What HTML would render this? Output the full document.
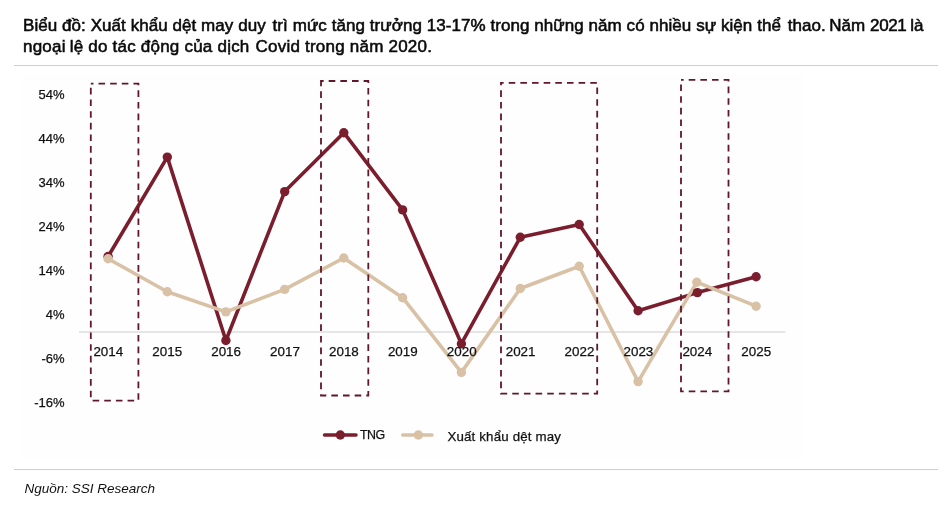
<!DOCTYPE html>
<html lang="vi">
<head>
<meta charset="utf-8">
<title>Biểu đồ</title>
<style>
html,body{margin:0;padding:0;background:#fff;}
body{width:938px;height:517px;position:relative;overflow:hidden;font-family:"Liberation Sans",sans-serif;color:#111;}
.title{position:absolute;left:23px;top:15px;margin:0;font-size:17px;line-height:21.3px;font-weight:400;color:#0a0a0a;white-space:nowrap;letter-spacing:0px;-webkit-text-stroke:0.55px #0a0a0a;}
.hr{position:absolute;left:14px;right:0;height:1px;background:#cfcfcf;}
.src{position:absolute;left:24.5px;top:481px;font-size:13.5px;font-style:italic;color:#111;white-space:nowrap;line-height:16px;}
svg{position:absolute;left:0;top:0;}
svg text{font-family:"Liberation Sans",sans-serif;fill:#111;stroke:#111;stroke-width:0.25px;}
</style>
</head>
<body>
<div class="title"><span id="t1" style="letter-spacing:0.06px">Biểu đồ: Xuất khẩu dệt may duy <span style="margin-left:2px">trì</span> mức tăng trưởng 13-17% trong những năm có nhiều sự kiện thể <span style="margin-left:2px">thao.</span> <span style="margin-left:-1.5px">Năm</span> <span style="letter-spacing:-0.35px">2021</span> <span style="margin-left:-1px">là</span></span><br><span id="t2" style="letter-spacing:0.22px">ngoại <span style="margin-left:-1px">lệ</span> do tác động của dịch <span style="margin-left:1px">Covid</span> trong năm 2020.</span></div>
<div class="hr" style="top:65px"></div>
<div class="hr" style="top:469px"></div>
<div class="src" id="src">Nguồn: SSI Research</div>
<svg width="938" height="517" viewBox="0 0 938 517">
  <rect x="22" y="74" width="781" height="385" fill="#fefefe"/>
  <line x1="79" y1="332" x2="785.5" y2="332" stroke="#dcdcdc" stroke-width="1.3"/>
  <g font-size="13" text-anchor="end" id="ylab">
    <text x="64.5" y="98.6">54%</text>
    <text x="64.5" y="142.7">44%</text>
    <text x="64.5" y="186.8">34%</text>
    <text x="64.5" y="230.9">24%</text>
    <text x="64.5" y="275.0">14%</text>
    <text x="64.5" y="319.1">4%</text>
    <text x="64.5" y="363.2">-6%</text>
    <text x="64.5" y="407.3">-16%</text>
  </g>
  <g fill="none" stroke-linejoin="round" stroke-linecap="round" stroke-width="3.6">
    <polyline stroke="#7a1e2e" points="108.1,256.5 167.3,157.1 225.9,340.5 284.7,191.6 343.8,132.7 402.6,209.9 461.4,343.7 520.3,237.3 579.2,224.5 638.1,310.7 697.4,292.6 756.1,276.8"/>
    <polyline stroke="#d8c1a5" points="108.1,258.7 167.3,291.7 225.9,311.9 284.7,289.4 343.8,258 402.6,297.7 461.4,372.4 520.3,288.5 579.2,266.2 638.1,381.6 696.8,282.2 756.1,306.2"/>
  </g>
  <g fill="#7a1e2e">
    <circle cx="108.1" cy="256.5" r="4.7"/><circle cx="167.3" cy="157.1" r="4.7"/><circle cx="225.9" cy="340.5" r="4.7"/><circle cx="284.7" cy="191.6" r="4.7"/><circle cx="343.8" cy="132.7" r="4.7"/><circle cx="402.6" cy="209.9" r="4.7"/><circle cx="461.4" cy="343.7" r="4.7"/><circle cx="520.3" cy="237.3" r="4.7"/><circle cx="579.2" cy="224.5" r="4.7"/><circle cx="638.1" cy="310.7" r="4.7"/><circle cx="697.4" cy="292.6" r="4.7"/><circle cx="756.1" cy="276.8" r="4.7"/>
  </g>
  <g fill="#d8c1a5">
    <circle cx="108.1" cy="258.7" r="4.7"/><circle cx="167.3" cy="291.7" r="4.7"/><circle cx="225.9" cy="311.9" r="4.7"/><circle cx="284.7" cy="289.4" r="4.7"/><circle cx="343.8" cy="258" r="4.7"/><circle cx="402.6" cy="297.7" r="4.7"/><circle cx="461.4" cy="372.4" r="4.7"/><circle cx="520.3" cy="288.5" r="4.7"/><circle cx="579.2" cy="266.2" r="4.7"/><circle cx="638.1" cy="381.6" r="4.7"/><circle cx="696.8" cy="282.2" r="4.7"/><circle cx="756.1" cy="306.2" r="4.7"/>
  </g>
  <g fill="none" stroke="#611729" stroke-width="1.8" stroke-dasharray="6.6 5.05" stroke-dashoffset="3.95">
    <rect x="90.8" y="83.6" width="47.6" height="317"/>
    <rect x="321" y="81" width="47.3" height="314.5"/>
    <rect x="501" y="82.8" width="96.2" height="310.8"/>
    <rect x="681" y="79.8" width="47.5" height="311.5"/>
  </g>
  <g font-size="13.4" text-anchor="middle" id="xlab">
    <text x="108.3" y="356.2">2014</text>
    <text x="167.2" y="356.2">2015</text>
    <text x="226.1" y="356.2">2016</text>
    <text x="285.0" y="356.2">2017</text>
    <text x="343.9" y="356.2">2018</text>
    <text x="402.8" y="356.2">2019</text>
    <text x="461.7" y="356.2">2020</text>
    <text x="520.6" y="356.2">2021</text>
    <text x="579.5" y="356.2">2022</text>
    <text x="638.4" y="356.2">2023</text>
    <text x="697.3" y="356.2">2024</text>
    <text x="756.2" y="356.2">2025</text>
  </g>
  <g>
    <line x1="324.5" y1="435" x2="356" y2="435" stroke="#7a1e2e" stroke-width="3.5" stroke-linecap="round"/>
    <circle cx="340.3" cy="435" r="4.7" fill="#7a1e2e"/>
    <text id="lg1" x="359.9" y="438.9" font-size="12.4" letter-spacing="-0.45">TNG</text>
    <line x1="402.7" y1="435" x2="432" y2="435" stroke="#d8c1a5" stroke-width="3.5" stroke-linecap="round"/>
    <circle cx="418.3" cy="435" r="4.7" fill="#d8c1a5"/>
    <text id="lg2" x="447.4" y="441.4" font-size="13.3" letter-spacing="0.17">Xuất khẩu dệt may</text>
  </g>
</svg>
</body>
</html>
